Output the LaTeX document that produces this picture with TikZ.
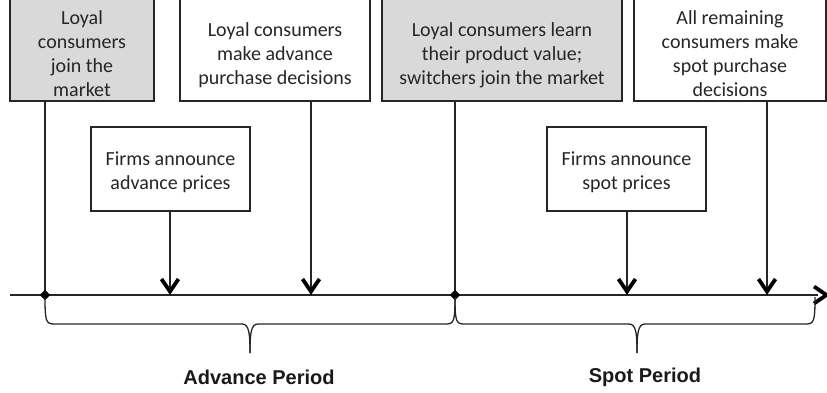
\documentclass[tikz,border=0pt]{standalone}
\usepackage{fontspec}
\setmainfont{Carlito}
\newfontfamily\labelfont{Liberation Sans}
\usetikzlibrary{shapes.geometric}

\definecolor{boxgray}{HTML}{D9D9D9}
\definecolor{inkline}{HTML}{262626}

\tikzset{
  evbox/.style={draw=inkline, line width=1.7pt, rectangle, inner sep=0pt},
  evtext/.style={align=center, font=\fontsize{20}{24}\selectfont, text=black!85, inner sep=0pt},
  periodlabel/.style={font=\labelfont\bfseries\fontsize{20}{24}\selectfont, text=black!90},
  link/.style={draw=inkline, line width=1.3pt},
  tick/.style={shape=diamond, fill=black, draw=black, inner sep=0pt, minimum size=10pt},
  bracepath/.style={draw=inkline, line width=1.3pt},
  % open V head, tip at the pic origin, arms pointing back along +y (up)
  chevron/.pic={\draw[draw=black, line width=3.8pt, line join=miter, line cap=butt]
      (-8.5pt,16pt) -- (0pt,3.5pt) -- (8.5pt,16pt);},
}

% curly brace below the axis from #1 to #2 with its point at #3
\newcommand\periodbrace[3]{%
  \draw[bracepath] (#1,297) .. controls (#1,321) and ({#1+1},324) .. ({#1+9},324)
    -- ({#3-8},324) .. controls ({#3-1},324) and (#3,333) .. (#3,353);
  \draw[bracepath] (#2,297) .. controls (#2,321) and ({#2-1},324) .. ({#2-9},324)
    -- ({#3+8},324) .. controls ({#3+1},324) and (#3,333) .. (#3,353);
}

\begin{document}
\begin{tikzpicture}[x=1pt,y=-1pt]
\useasboundingbox (0,0) rectangle (827,393);
\clip (0,0) rectangle (827,393);

% event boxes along the top (their upper edges run off the page)
\node[evbox, fill=boxgray, minimum width=144pt, minimum height=112pt, anchor=south] (joinbox) at (82,102) {};
\node[evbox, fill=white, minimum width=190pt, minimum height=112pt, anchor=south] (advbuy) at (275,102) {};
\node[evbox, fill=boxgray, minimum width=240pt, minimum height=112pt, anchor=south] (learnbox) at (502,102) {};
\node[evbox, fill=white, minimum width=192pt, minimum height=112pt, anchor=south] (spotbuy) at (730,102) {};

\node[evtext] (jointext) at (82,54) {Loyal\\consumers\\join the\\market};
\node[evtext] (advbuytext) at (275,55) {Loyal consumers\\make advance\\purchase decisions};
\node[evtext] (learntext) at (502,55) {Loyal consumers learn\\their product value;\\switchers join the market};
\node[evtext] (spotbuytext) at (730,54) {All remaining\\consumers make\\spot purchase\\decisions};

% price announcement boxes
\node[evbox, fill=white, minimum width=159pt, minimum height=84pt] (advprice) at (170.5,169) {};
\node[evbox, fill=white, minimum width=159pt, minimum height=84pt] (spotprice) at (626.5,169) {};
\node[evtext] (advpricetext) at (170.5,172.5) {Firms announce\\advance prices};
\node[evtext] (spotpricetext) at (626.5,172.5) {Firms announce\\spot prices};

% points on the time line
\coordinate (axstart) at (10,295);
\coordinate (axend) at (830,295);
\coordinate (tjoin) at (45,295);
\coordinate (tadvprice) at (170,295);
\coordinate (tadvbuy) at (311,295);
\coordinate (tlearn) at (455,295);
\coordinate (tspotprice) at (627,295);
\coordinate (tspotbuy) at (767,295);

% connectors from the boxes down to the time line
\draw[link] (joinbox.south -| tjoin) -- (tjoin);
\draw[link] (learnbox.south -| tlearn) -- (tlearn);
\draw[link] (advprice.south -| tadvprice) -- (tadvprice);
\draw[link] (advbuy.south -| tadvbuy) -- (tadvbuy);
\draw[link] (spotprice.south -| tspotprice) -- (tspotprice);
\draw[link] (spotbuy.south -| tspotbuy) -- (tspotbuy);

% time line
\draw[link] (axstart) -- ([xshift=-12pt]axend);

% arrow heads
\pic at (tadvprice) {chevron};
\pic at (tadvbuy) {chevron};
\pic at (tspotprice) {chevron};
\pic at (tspotbuy) {chevron};
\pic[rotate=90] at (axend) {chevron};

\node[tick] (djoin) at (tjoin) {};
\node[tick] (dlearn) at (tlearn) {};

% periods
\periodbrace{45}{455}{250}
\periodbrace{455}{815}{637}
\node[periodlabel] (advperiod) at (259,377) {Advance Period};
\node[periodlabel] (spotperiod) at (645,377) {Spot Period};
\end{tikzpicture}
\end{document}
